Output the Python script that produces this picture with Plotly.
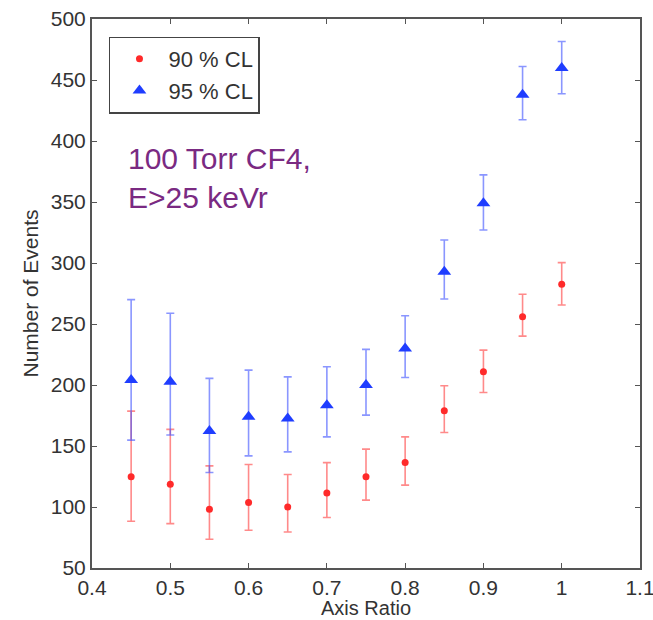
import plotly.graph_objects as go

x_ratio = [0.45, 0.5, 0.55, 0.6, 0.65, 0.7, 0.75, 0.8, 0.85, 0.9, 0.95, 1.0]

cl90 = [124.7, 118.7, 98.2, 103.7, 100.0, 111.5, 124.7, 136.5, 178.8, 210.8, 256.0, 282.6]
cl90_hi = [178.6, 163.6, 133.7, 134.8, 126.6, 136.4, 147.4, 157.5, 199.4, 228.6, 274.4, 300.3]
cl90_lo = [88.3, 86.4, 73.6, 80.9, 79.5, 91.4, 105.6, 117.9, 161.1, 193.9, 240.1, 265.6]

cl95 = [204.0, 202.6, 162.2, 173.9, 172.6, 183.5, 199.9, 230.0, 292.9, 349.0, 437.9, 459.8]
cl95_hi = [270.0, 258.8, 205.4, 212.2, 206.7, 215.0, 229.2, 256.8, 318.9, 372.2, 461.1, 481.6]
cl95_lo = [154.8, 159.0, 128.3, 141.9, 145.2, 157.5, 175.3, 206.2, 270.5, 327.1, 417.4, 438.7]

x_ticks = [0.4, 0.5, 0.6, 0.7, 0.8, 0.9, 1.0, 1.1]
x_ticklabels = ["0.4", "0.5", "0.6", "0.7", "0.8", "0.9", "1", "1.1"]
y_ticks = [50, 100, 150, 200, 250, 300, 350, 400, 450, 500]

FONT = "Liberation Sans, Arial, Helvetica, sans-serif"
TXT = "#333333"

fig = go.Figure()

fig.add_trace(go.Scatter(
    x=x_ratio, y=cl90, mode="markers", name="90 % CL",
    marker=dict(symbol="circle", size=7, color="#ff2a2a"),
    error_y=dict(type="data", symmetric=False,
                 array=[h - v for h, v in zip(cl90_hi, cl90)],
                 arrayminus=[v - l for v, l in zip(cl90, cl90_lo)],
                 color="rgba(255,60,60,0.6)", thickness=1.6, width=4),
))
fig.add_trace(go.Scatter(
    x=x_ratio, y=cl95, mode="markers", name="95 % CL",
    marker=dict(symbol="triangle-up", size=12, color="#1f3dff"),
    error_y=dict(type="data", symmetric=False,
                 array=[h - v for h, v in zip(cl95_hi, cl95)],
                 arrayminus=[v - l for v, l in zip(cl95, cl95_lo)],
                 color="rgba(60,80,255,0.6)", thickness=1.6, width=4),
))

fig.add_annotation(
    x=0.062, y=0.78, xref="paper", yref="paper", xanchor="left", yanchor="top",
    text="100 Torr CF4,<br>E>25 keVr", showarrow=False, align="left",
    font=dict(family=FONT, size=30, color="#7a2a82"),
)
# x-axis title placed below tick labels
fig.add_annotation(
    x=0.5, y=-0.073, xref="paper", yref="paper", xanchor="center", yanchor="middle",
    text="Axis Ratio", showarrow=False,
    font=dict(family=FONT, size=20, color=TXT),
)

axis_common = dict(
    showline=True, mirror="allticks", linecolor="#555555", linewidth=2,
    ticks="inside", ticklen=5, tickcolor="#555555", tickwidth=1,
    showgrid=False, zeroline=False, automargin=False,
    ticklabeloverflow="allow",
    tickfont=dict(family=FONT, size=21, color=TXT),
)

fig.update_layout(
    width=653, height=620,
    margin=dict(l=92, r=13, t=19, b=52),
    paper_bgcolor="white", plot_bgcolor="white",
    font=dict(family=FONT, size=21, color=TXT),
    showlegend=True,
    legend=dict(
        x=0.031, y=0.968, xanchor="left", yanchor="top",
        bordercolor="#444444", borderwidth=1.5, bgcolor="white",
        font=dict(family=FONT, size=22, color=TXT),
        itemwidth=48,
    ),
    xaxis=dict(range=[0.4, 1.1], tickvals=x_ticks, ticktext=x_ticklabels,
               **axis_common),
    yaxis=dict(range=[50, 500], tickvals=y_ticks,
               title=dict(text="Number of Events", font=dict(family=FONT, size=21, color=TXT), standoff=6),
               **axis_common),
)

fig.write_html("out.html")
